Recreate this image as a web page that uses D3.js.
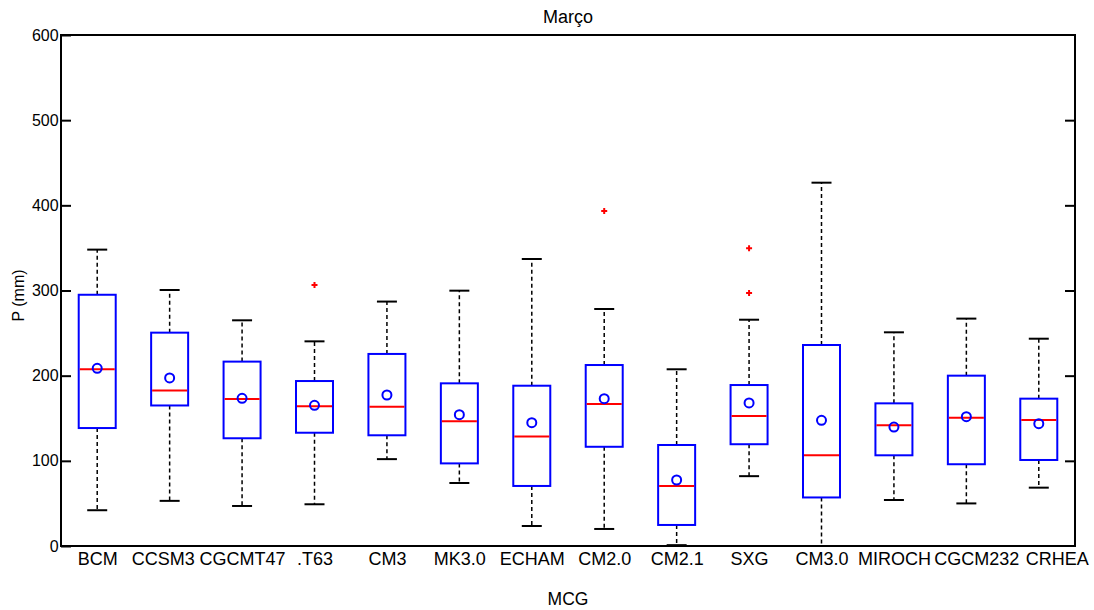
<!DOCTYPE html>
<html>
<head>
<meta charset="utf-8">
<script src="https://cdn.jsdelivr.net/npm/d3@7"></script>
<style>
  body { margin: 0; background: #fff; }
  text { font-family: "Liberation Sans", Arial, sans-serif; fill: #000; }
</style>
</head>
<body>
<div id="chart"></div>
<script>
const categories = ["BCM", "CCSM3", "CGCMT47", ".T63", "CM3", "MK3.0", "ECHAM", "CM2.0", "CM2.1", "SXG", "CM3.0", "MIROCH", "CGCM232", "CRHEA"];
const lowerWhisker = [42, 53, 47, 49, 102, 74, 23.5, 20, 1, 82, 0, 54, 50, 68.5];
const q1 = [138.5, 165, 126.5, 133, 130, 97, 70.5, 116.5, 24.7, 119.5, 57, 106.5, 96, 101];
const medians = [207.5, 182.5, 172.5, 164, 163.5, 146.5, 128.5, 166.7, 70.5, 152.5, 106.5, 141.7, 150.5, 148];
const q3 = [295, 250.5, 216.5, 193.7, 225.5, 191, 188.2, 212.5, 118.6, 189, 236, 167.5, 200, 173];
const upperWhisker = [348, 300.6, 265, 240.3, 287, 299.8, 337, 278.3, 207.5, 265.7, 426.6, 250.9, 267, 243.4];
const means = [208.6, 197.3, 173.4, 165.2, 177.3, 154.2, 144.8, 173, 77.5, 168, 147.6, 139.7, 151.8, 143.6];
const outliers = [[], [], [], [306.4], [], [], [], [393.3], [], [349.5, 297], [], [], [], []];
const yTicks = [0, 100, 200, 300, 400, 500, 600];

const W = 1094, H = 610;
const margin = {top: 35, right: 19, bottom: 64, left: 61};
const width = W - margin.left - margin.right;
const height = H - margin.top - margin.bottom;

// small horizontal nudges of some x labels (px), as in the original figure
const labelNudge = {"CCSM3": -7, "CGCM232": 10, "CRHEA": 18};

const svg = d3.select("#chart").append("svg")
  .attr("width", W).attr("height", H);

const g = svg.append("g")
  .attr("transform", `translate(${margin.left},${margin.top})`);

const x = d3.scaleLinear().domain([0.5, categories.length + 0.5]).range([0, width]);
const y = d3.scaleLinear().domain([0, 600]).range([height, 0]);

const boxW = 37, capW = 20;

const data = categories.map((c, i) => ({
  name: c, pos: i + 1,
  lo: lowerWhisker[i], q1: q1[i], med: medians[i], q3: q3[i], hi: upperWhisker[i],
  mean: means[i], out: outliers[i]
}));

// y ticks (inward, left and right)
g.append("g").call(d3.axisLeft(y).tickValues(yTicks).tickSizeInner(-10).tickSizeOuter(0).tickPadding(4))
  .call(a => a.select(".domain").remove())
  .call(a => a.selectAll("line").attr("stroke", "#000").attr("stroke-width", 2))
  .call(a => a.selectAll("text").attr("font-size", 16).attr("dx", "0.1em"));

g.append("g").attr("transform", `translate(${width},0)`)
  .call(d3.axisRight(y).tickValues(yTicks.slice(1, -1)).tickSizeInner(-10).tickSizeOuter(0).tickFormat(""))
  .call(a => a.select(".domain").remove())
  .call(a => a.selectAll("line").attr("stroke", "#000").attr("stroke-width", 2));

// x labels
g.append("g").attr("transform", `translate(0,${height})`)
  .call(d3.axisBottom(x).tickValues(data.map(d => d.pos)).tickFormat((d, i) => categories[i]).tickSize(0).tickPadding(6))
  .call(a => a.select(".domain").remove())
  .call(a => a.selectAll("text").attr("font-size", 18)
    .attr("dx", (d, i) => labelNudge[categories[i]] || 0));

const boxes = g.selectAll(".box").data(data).enter().append("g").attr("class", "box");

// whiskers
boxes.append("line")
  .attr("x1", d => x(d.pos)).attr("x2", d => x(d.pos))
  .attr("y1", d => y(d.q3)).attr("y2", d => y(d.hi))
  .attr("stroke", "#000").attr("stroke-width", 1.5).attr("stroke-dasharray", "4,3");
boxes.append("line")
  .attr("x1", d => x(d.pos)).attr("x2", d => x(d.pos))
  .attr("y1", d => y(d.q1)).attr("y2", d => y(d.lo))
  .attr("stroke", "#000").attr("stroke-width", 1.5).attr("stroke-dasharray", "4,3");
boxes.append("line")
  .attr("x1", d => x(d.pos) - capW / 2).attr("x2", d => x(d.pos) + capW / 2)
  .attr("y1", d => y(d.hi)).attr("y2", d => y(d.hi))
  .attr("stroke", "#000").attr("stroke-width", 2);
boxes.append("line")
  .attr("x1", d => x(d.pos) - capW / 2).attr("x2", d => x(d.pos) + capW / 2)
  .attr("y1", d => y(d.lo)).attr("y2", d => y(d.lo))
  .attr("stroke", "#000").attr("stroke-width", 2);

// box
boxes.append("rect")
  .attr("x", d => x(d.pos) - boxW / 2).attr("width", boxW)
  .attr("y", d => y(d.q3)).attr("height", d => y(d.q1) - y(d.q3))
  .attr("fill", "#fff").attr("stroke", "#0000ff").attr("stroke-width", 2);

// median
boxes.append("line")
  .attr("x1", d => x(d.pos) - boxW / 2 + 1).attr("x2", d => x(d.pos) + boxW / 2 - 1)
  .attr("y1", d => y(d.med)).attr("y2", d => y(d.med))
  .attr("stroke", "#ff0000").attr("stroke-width", 2);

// mean
boxes.append("circle")
  .attr("cx", d => x(d.pos)).attr("cy", d => y(d.mean)).attr("r", 4.5)
  .attr("fill", "none").attr("stroke", "#0000ff").attr("stroke-width", 2);

// outliers
boxes.selectAll(".out").data(d => d.out.map(v => ({pos: d.pos, v}))).enter()
  .append("path").attr("class", "out")
  .attr("d", d => `M${x(d.pos) - 3},${y(d.v)}h6M${x(d.pos)},${y(d.v) - 3}v6`)
  .attr("stroke", "#ff0000").attr("stroke-width", 2);

// frame
g.append("rect").attr("x", 0).attr("y", 0).attr("width", width).attr("height", height)
  .attr("fill", "none").attr("stroke", "#000").attr("stroke-width", 2);

// titles
svg.append("text").attr("x", margin.left + width / 2).attr("y", 23)
  .attr("text-anchor", "middle").attr("font-size", 18).text("Março");
svg.append("text").attr("x", margin.left + width / 2).attr("y", 605)
  .attr("text-anchor", "middle").attr("font-size", 17.5).text("MCG");
svg.append("text").attr("transform", `translate(24,${margin.top + height / 2 + 5}) rotate(-90)`)
  .attr("text-anchor", "middle").attr("font-size", 16).text("P (mm)");
</script>
</body>
</html>
